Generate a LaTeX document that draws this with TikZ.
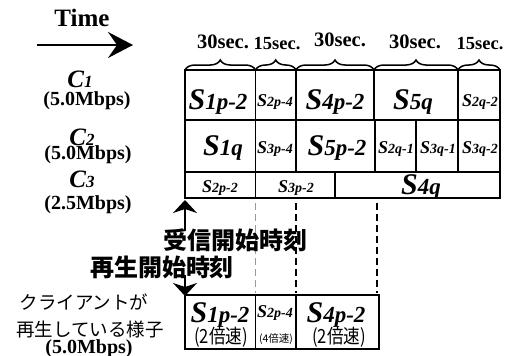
\documentclass[tikz,border=0pt]{standalone}
\usepackage{graphicx}
\usepackage{fontspec}
\setmainfont{Liberation Serif}
\newfontfamily\jp{Noto Sans CJK JP}
\usetikzlibrary{arrows.meta,decorations.pathreplacing}
\newcommand\fsz[1]{\fontsize{#1}{#1}\selectfont}
\newcommand\SBig[1]{{\bfseries\itshape\fsz{30}S\fsz{23}#1}}
\newcommand\SSmall[1]{{\bfseries\itshape\fsz{18}S\fsz{14}#1}}
\newcommand\CLab[1]{{\bfseries\itshape\fsz{25}C\fsz{17}#1}}
\newcommand\Rate[1]{{\bfseries\fsz{20}(#1Mbps)}}
\newcommand\Speed[1]{\scalebox{0.85}[1]{\jp\fsz{19.5}(#1倍速)}}
\begin{document}
\begin{tikzpicture}[x=1pt,y=-1pt,
  cell/.style={line width=1.5pt},
  lbl/.style={inner sep=0pt, anchor=base},
  mid/.style={inner sep=0pt, anchor=center},
  brc/.style={line width=1.5pt, decorate, decoration={brace, amplitude=10pt}},
  guide/.style={line width=1.7pt, dash pattern=on 7pt off 4pt},
  bigarrow/.style={line width=1.8pt, -{Stealth[length=13pt,width=24pt,inset=4pt]}}]
\useasboundingbox (0,0) rectangle (512,356);

% Time arrow
\node[lbl] (time) at (82,27) {\bfseries\fsz{25}Time};
\coordinate (ta0) at (37,45);
\coordinate (ta1) at (133,45);
\draw[line width=2pt, -{Stealth[length=25pt,width=26pt,inset=9pt]}] (ta0) -- (ta1);

% channel labels
\node[lbl] (c1) at (80,87) {\CLab{1}};
\node[lbl] (c1r) at (87,105) {\Rate{5.0}};
\node[lbl] (c2) at (82,145) {\CLab{2}};
\node[lbl] (c2r) at (88,159) {\Rate{5.0}};
\node[lbl] (c3) at (82,187) {\CLab{3}};
\node[lbl] (c3r) at (88,209) {\Rate{2.5}};

% grid
\draw[cell] (185,70) rectangle (500,198);
\draw[cell] (185,120) -- (500,120);
\draw[cell] (185,172) -- (500,172);
\foreach \x in {255.5,296,374,458} \draw[cell] (\x,70) -- (\x,120);
\foreach \x in {255.5,296,375,416,458} \draw[cell] (\x,120) -- (\x,172);
\foreach \x in {255.5,335} \draw[cell] (\x,172) -- (\x,198);

% braces
\draw[brc] (185,70) -- (255.5,70);
\draw[brc] (255.5,70) -- (296,70);
\draw[brc] (296,70) -- (374,70);
\draw[brc] (374,70) -- (458,70);
\draw[brc] (458,70) -- (500,70);

% durations
\node[lbl] (d1) at (223,48) {\bfseries\fsz{20.5}30sec.};
\node[lbl] (d2) at (277,49) {\bfseries\fsz{18.5}15sec.};
\node[lbl] (d3) at (340,46) {\bfseries\fsz{20.5}30sec.};
\node[lbl] (d4) at (415,48) {\bfseries\fsz{20.5}30sec.};
\node[lbl] (d5) at (480,49) {\bfseries\fsz{18.5}15sec.};

% row 1
\node[lbl] (a1) at (218,109) {\SBig{1p-2}};
\node[lbl] (a2) at (275,106) {\SSmall{2p-4}};
\node[lbl] (a3) at (335,109) {\SBig{4p-2}};
\node[lbl] (a4) at (413,109) {\SBig{5q}};
\node[lbl] (a5) at (480,106) {\SSmall{2q-2}};
% row 2
\node[lbl] (b1) at (223,155) {\SBig{1q}};
\node[lbl] (b2) at (275,153) {\SSmall{3p-4}};
\node[lbl] (b3) at (337,155) {\SBig{5p-2}};
\node[lbl] (b4) at (396,153) {\SSmall{2q-1}};
\node[lbl] (b5) at (438,153) {\SSmall{3q-1}};
\node[lbl] (b6) at (480,153) {\SSmall{3q-2}};
% row 3
\node[lbl] (e1) at (220,192) {\SSmall{2p-2}};
\node[lbl] (e2) at (296,192) {\SSmall{3p-2}};
\node[lbl] (e3) at (421,194) {\SBig{4q}};

% guide lines
\coordinate (g1a) at (255.5,203); \coordinate (g1b) at (255.5,293);
\coordinate (g2a) at (296,203);   \coordinate (g2b) at (296,293);
\coordinate (g3a) at (377,203);   \coordinate (g3b) at (377,293);
\draw[guide, draw=black!40] (g1a) -- (g1b);
\draw[guide] (g2a) -- (g2b);
\draw[guide] (g3a) -- (g3b);

% start arrows
\coordinate (ua0) at (185,231); \coordinate (ua1) at (185,200);
\coordinate (da0) at (185,275); \coordinate (da1) at (185,296);
\draw[bigarrow] (ua0) -- (ua1);
\draw[bigarrow] (da0) -- (da1);
\node[mid] (recv) at (235,240) {\jp\bfseries\fsz{24}受信開始時刻};
\node[mid] (play) at (162,267) {\jp\bfseries\fsz{24}再生開始時刻};

% client playback
\node[mid] (cl1) at (84,302) {\jp\fsz{18.5}クライアントが};
\node[mid] (cl2) at (90,329) {\jp\fsz{18.5}再生している様子};
\node[lbl] (cl3) at (89,353) {\Rate{5.0}};

\draw[cell] (185,295) rectangle (379,349);
\draw[cell] (255.5,295) -- (255.5,349);
\draw[cell] (296,295) -- (296,349);
\node[lbl] (p1) at (220,322) {\SBig{1p-2}};
\node[mid] (p1s) at (221,337) {\Speed{2}};
\node[lbl] (p2) at (275,317) {\SSmall{2p-4}};
\node[mid] (p2s) at (276,339) {\jp\fsz{10.5}(4倍速)};
\node[lbl] (p3) at (336,322) {\SBig{4p-2}};
\node[mid] (p3s) at (339,337) {\Speed{2}};
\end{tikzpicture}
\end{document}
